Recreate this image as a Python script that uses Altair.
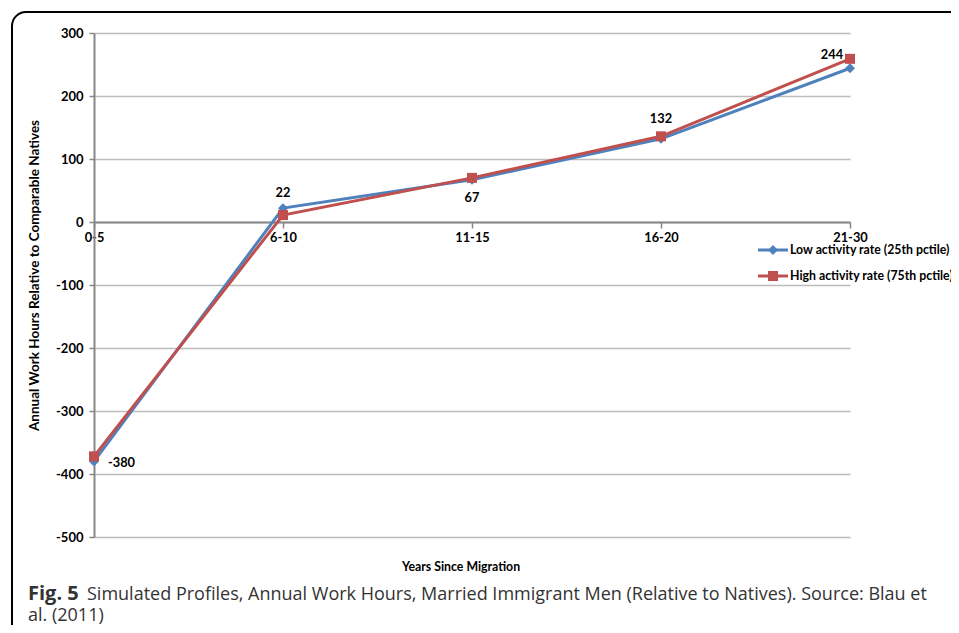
import altair as alt
import pandas as pd

categories = ["0-5", "6-10", "11-15", "16-20", "21-30"]
series_names = ["Low activity rate (25th pctile)", "High activity rate (75th pctile)"]
low_values = [-380, 22, 67, 132, 244]
high_values = [-372, 11, 70, 136, 259]
y_ticks = [300, 200, 100, 0, -100, -200, -300, -400, -500]
y_title = "Annual Work Hours Relative to Comparable Natives"
x_title = "Years Since Migration"
caption_bold = "Fig. 5"
caption_line1 = "Simulated Profiles, Annual Work Hours, Married Immigrant Men (Relative to Natives). Source: Blau et"
caption_line2 = "al. (2011)"
colors = ["#4F81BD", "#C0504D"]
shapes = ["diamond", "square"]

rows = []
for name, vals in zip(series_names, [low_values, high_values]):
    for c, v in zip(categories, vals):
        rows.append({"cat": c, "val": v, "series": name})
df = pd.DataFrame(rows)

W, H = 756, 504
FONT = "Lato"
GRAY = "#878787"

x_enc = alt.X("cat:N", sort=categories, scale=alt.Scale(type="point", padding=0),
              axis=alt.Axis(title=None, offset=-315, labelAngle=0, grid=False,
                            domainColor=GRAY, domainWidth=2, tickColor=GRAY,
                            tickSize=6, tickWidth=1.5, labelFont=FONT,
                            labelFontWeight="bold", labelFontSize=12.8,
                            labelColor="black", labelPadding=3))
y_enc = alt.Y("val:Q", scale=alt.Scale(domain=[-500, 300], nice=False),
              axis=alt.Axis(values=y_ticks, title=y_title, titleFont=FONT,
                            titleFontSize=13.5, titleFontWeight="bold",
                            titleColor="black", titlePadding=14, titleY=242,
                            labelExpr="'' + datum.value",
                            grid=True, gridColor="#bdbdbd", gridWidth=1.5,
                            domainColor=GRAY, domainWidth=2, tickColor=GRAY,
                            tickSize=5, tickWidth=1.5, labelFont=FONT,
                            labelFontWeight="bold", labelFontSize=13,
                            labelColor="black", labelPadding=6))
color_enc = alt.Color("series:N", scale=alt.Scale(domain=series_names, range=colors), legend=None)
shape_enc = alt.Shape("series:N", scale=alt.Scale(domain=series_names, range=shapes), legend=None)

one = pd.DataFrame({"a": [0]})

layers = []
# frame
layers.append(alt.Chart(one).mark_rect(fillOpacity=0, stroke="black", strokeWidth=2,
                                        cornerRadius=14).encode(
    x=alt.value(-82), x2=alt.value(900), y=alt.value(-21), y2=alt.value(700)))

for name in series_names:
    layers.append(alt.Chart(df).transform_filter(alt.datum.series == name)
                  .mark_line(strokeWidth=3).encode(x=x_enc, y=y_enc, color=color_enc))
for name in series_names:
    layers.append(alt.Chart(df).transform_filter(alt.datum.series == name)
                  .mark_point(filled=True, size=100, opacity=1).encode(
                      x=x_enc, y=y_enc, color=color_enc, shape=shape_enc))

# data labels for the low series
label_offsets = {"0-5": (14, 2, "left"), "6-10": (0, -15, "center"),
                 "11-15": (0, 18, "center"), "16-20": (0, -20, "center"),
                 "21-30": (-18, -13, "center")}
low_df = df[df.series == series_names[0]]
for cat, (dx, dy, al) in label_offsets.items():
    layers.append(alt.Chart(low_df).transform_filter(alt.datum.cat == cat)
                  .transform_calculate(lbl="'' + datum.val")
                  .mark_text(font=FONT, fontWeight="bold", fontSize=12.8, color="black",
                             dx=dx, dy=dy, align=al, baseline="middle")
                  .encode(x=x_enc, y=y_enc, text="lbl:N"))

# legend
for i, (name, col, shp) in enumerate(zip(series_names, colors, shapes)):
    ly = 217 + 26 * i
    layers.append(alt.Chart(one).mark_rule(color=col, strokeWidth=3).encode(
        x=alt.value(664), x2=alt.value(694), y=alt.value(ly)))
    layers.append(alt.Chart(one).mark_point(filled=True, size=100, opacity=1, color=col,
                                            shape=shp).encode(
        x=alt.value(679), y=alt.value(ly)))
    layers.append(alt.Chart(one).mark_text(font=FONT, fontWeight="bold", fontSize=12.3,
                                           color="black", align="left", baseline="middle")
                  .encode(x=alt.value(696), y=alt.value(ly), text=alt.value(name)))

# x axis title
layers.append(alt.Chart(one).mark_text(font=FONT, fontWeight="bold", fontSize=12.3,
                                       color="black", align="center", baseline="middle")
              .encode(x=alt.value(367), y=alt.value(534), text=alt.value(x_title)))

# caption
layers.append(alt.Chart(one).mark_text(font="Open Sans", fontWeight="bold", fontSize=20,
                                       color="#333333", align="left", baseline="alphabetic")
              .encode(x=alt.value(-66), y=alt.value(567), text=alt.value(caption_bold)))
layers.append(alt.Chart(one).mark_text(font="Open Sans", fontSize=18,
                                       color="#333333", align="left", baseline="alphabetic")
              .encode(x=alt.value(-7), y=alt.value(567), text=alt.value(caption_line1)))
layers.append(alt.Chart(one).mark_text(font="Open Sans", fontSize=18,
                                       color="#333333", align="left", baseline="alphabetic")
              .encode(x=alt.value(-66), y=alt.value(588), text=alt.value(caption_line2)))

chart = alt.layer(*layers).properties(
    width=W, height=H,
    autosize=alt.AutoSizeParams(type="none"),
    padding={"left": 86, "top": 25, "right": 101, "bottom": 88},
).configure_view(stroke=None)

chart.save("out.html", embed_options={"renderer": "svg", "actions": False})
